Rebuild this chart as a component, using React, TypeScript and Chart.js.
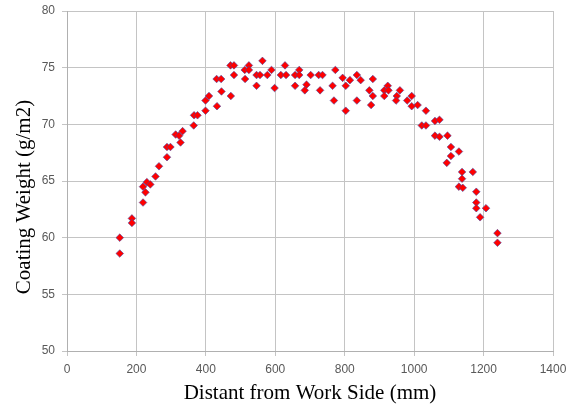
import React, { useEffect, useRef } from "react";
import { Chart, registerables } from "chart.js";

Chart.register(...registerables);

// Distance from work side (mm)
const distances: number[] = [
  152, 152, 187, 187, 219, 226, 219, 230, 240, 255,
  265, 288, 288, 298, 327, 313, 323, 333, 365, 366,
  376, 399, 399, 409, 432, 445, 472, 431, 444, 471,
  481, 481, 512, 524, 524, 513, 546, 556, 546, 563,
  577, 589, 598, 616, 628, 631, 657, 669, 669, 657,
  690, 685, 702, 725, 736, 729, 765, 769, 773, 794,
  803, 803, 815, 835, 846, 835, 871, 881, 876, 881,
  914, 924, 926, 914, 950, 959, 948, 980, 993, 993,
  1010, 1034, 1022, 1034, 1060, 1073, 1060, 1073, 1096, 1106,
  1129, 1106, 1094, 1138, 1169, 1138, 1129, 1140, 1179, 1179,
  1179, 1207, 1190, 1240, 1240,
];

// Coating weight (g/m2)
const weights: number[] = [
  60.0, 58.6, 61.7, 61.3, 63.1, 64.0, 64.5, 64.9, 64.7, 65.4,
  66.3, 67.1, 68.0, 68.0, 68.4, 69.1, 69.0, 69.4, 69.9, 70.8,
  70.8, 71.2, 72.1, 72.5, 71.6, 72.9, 72.5, 74.0, 74.0, 75.2,
  75.2, 74.35, 74.8, 75.2, 74.8, 74.0, 74.35, 74.35, 73.4, 75.6,
  74.35, 74.8, 73.2, 74.35, 75.2, 74.35, 74.35, 74.8, 74.35, 73.4,
  73.5, 73.0, 74.35, 74.35, 74.35, 73.0, 73.4, 72.1, 74.8, 74.1,
  73.4, 71.2, 73.9, 74.35, 73.9, 72.1, 73.0, 72.5, 71.7, 74.0,
  73.0, 73.4, 73.0, 72.5, 72.5, 73.0, 72.1, 72.1, 72.5, 71.6,
  71.7, 71.2, 69.9, 69.9, 70.3, 70.4, 69.0, 68.9, 69.0, 68.0,
  67.6, 67.2, 66.6, 65.8, 65.8, 65.2, 64.5, 64.4, 64.05, 63.1,
  62.6, 62.6, 61.8, 60.4, 59.55,
];

const xRange = [0, 1400];
const xStep = 200;
const yRange = [50, 80];
const yStep = 5;
const xTitle = "Distant from Work Side (mm)";
const yTitle = "Coating Weight (g/m2)";

const yTitlePlugin = {
  id: "yTitlePlugin",
  afterDraw(chart: any) {
    const { ctx, chartArea } = chart;
    ctx.save();
    ctx.translate(24, (chartArea.top + chartArea.bottom) / 2 + 16);
    ctx.rotate(-Math.PI / 2);
    ctx.font = '21px "Liberation Serif"';
    ctx.fillStyle = "#000000";
    ctx.textAlign = "center";
    ctx.textBaseline = "middle";
    ctx.fillText(yTitle, 0, 0);
    ctx.restore();
  },
};

export default function App() {
  const canvasRef = useRef<HTMLCanvasElement | null>(null);

  useEffect(() => {
    const canvas = canvasRef.current;
    if (!canvas) return;
    const points = distances.map((d, i) => ({ x: d, y: weights[i] }));
    const gridColor = "#c4c4c4";
    const tickFont = { family: '"Liberation Sans"', size: 12 };
    const chart = new Chart(canvas, {
      type: "scatter",
      data: {
        datasets: [
          {
            label: "Coating Weight",
            data: points,
            pointStyle: "rectRot",
            pointRadius: 3.8,
            backgroundColor: "#ff0000",
            borderColor: "rgba(70,70,160,0.75)",
            borderWidth: 0.8,
          },
        ],
      },
      options: {
        animation: false,
        responsive: false,
        layout: { padding: { left: 0, right: 15, top: 11, bottom: 0 } },
        plugins: {
          legend: { display: false },
          tooltip: { enabled: false },
        },
        scales: {
          x: {
            type: "linear",
            min: xRange[0],
            max: xRange[1],
            ticks: {
              stepSize: xStep,
              color: "#595959",
              font: tickFont,
              padding: 6,
              maxRotation: 0,
              callback: (v: any) => String(v),
            },
            grid: { color: gridColor, lineWidth: 1, tickLength: 5, drawTicks: true },
            border: { color: "#b0b0b0", width: 1 },
            title: {
              display: true,
              text: xTitle,
              color: "#000000",
              font: { family: '"Liberation Serif"', size: 21 },
              padding: { top: 4, bottom: 8 },
            },
            afterFit(scale: any) {
              scale.height = 63;
              scale.paddingLeft = 0;
              scale.paddingRight = 0;
            },
          },
          y: {
            type: "linear",
            min: yRange[0],
            max: yRange[1],
            ticks: {
              stepSize: yStep,
              color: "#595959",
              font: tickFont,
              padding: 7,
              callback: (v: any) => String(v),
            },
            grid: { color: gridColor, lineWidth: 1, tickLength: 5, drawTicks: true },
            border: { color: "#b0b0b0", width: 1 },
            afterFit(scale: any) {
              scale.width = 67;
              scale.paddingTop = 0;
              scale.paddingBottom = 0;
            },
          },
        },
      },
      plugins: [yTitlePlugin],
    });
    return () => chart.destroy();
  }, []);

  return (
    <div style={{ position: "fixed", left: 0, top: 0, width: 568, height: 414, background: "#ffffff" }}>
      <canvas ref={canvasRef} width={568} height={414} style={{ display: "block" }} />
    </div>
  );
}
